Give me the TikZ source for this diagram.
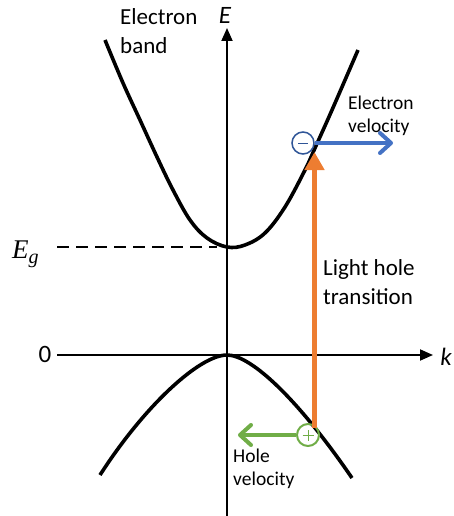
\documentclass[tikz,border=0pt]{standalone}
\usepackage{fontspec}
\setmainfont{Carlito}
\newfontfamily\egfont{Liberation Serif}
\usetikzlibrary{arrows.meta}
\definecolor{eblue}{HTML}{4472C4}
\definecolor{dblue}{HTML}{2F5597}
\definecolor{orng}{HTML}{ED7D31}
\definecolor{grn}{HTML}{70AD47}
\begin{document}
\begin{tikzpicture}[x=1pt,y=-1pt,
  band/.style={line width=3.6pt, line join=round},
  axis/.style={line width=1.9pt, -{Triangle[length=13pt,width=11pt]}},
  big/.style={font=\fontsize{23}{29}\selectfont, align=left, inner sep=0pt, anchor=base west},
  small/.style={font=\fontsize{19.5}{23}\selectfont, align=left, inner sep=0pt, anchor=base west},
  vel/.style={line width=4pt, -{Straight Barb[length=11pt,width=20pt,line cap=round,line join=round]}},
  carrier/.style={circle, minimum size=22pt, inner sep=0pt}]
\useasboundingbox (0,0) rectangle (454,516);
% axes
\coordinate (vb) at (227,516);
\coordinate (vt) at (227,28);
\coordinate (hl) at (57,355);
\coordinate (hr) at (433,355);
\draw[axis] (vb) -- (vt);
\draw[axis] (hl) -- (hr);
\node[inner sep=0pt, anchor=base, font=\fontsize{25}{28}\selectfont\itshape] (E) at (225,24) {E};
\node[inner sep=0pt, anchor=base, font=\fontsize{25}{28}\selectfont\itshape] (k) at (446,365) {k};
\node[inner sep=0pt, anchor=base, font=\fontsize{25}{28}\selectfont] (zero) at (45,362) {0};
\node[inner sep=0pt, anchor=base west, font=\fontsize{27}{30}\selectfont\egfont\itshape] (Eg) at (12,258) {E\raisebox{-5pt}{\fontsize{20}{22}\selectfont g}};
% dashed gap line
\coordinate (dl) at (57,247);
\coordinate (dr) at (217,247);
\draw[line width=2.6pt, dash pattern=on 12pt off 7pt] (dl) -- (dr);
% conduction band
\draw[band] plot[smooth, tension=0.6] coordinates {(105,40) (123,83) (140,120) (157,157) (173,190) (190,220) (207,238) (227,247) (245,245) (265,233) (285,207) (305,170) (315,148) (332,110) (358,50)};
% valence band
\coordinate (vtop) at (227,355);
\coordinate (vl) at (100,475);
\coordinate (vr) at (352,478);
\draw[band] (vl) .. controls (145,405) and (200,355) .. (vtop)
            .. controls (252,355) and (300,402) .. (vr);
% carriers
\node[carrier, draw=dblue, line width=1.5pt] (el) at (303,143) {};
\draw[dblue, line width=0.8pt] ([xshift=-5pt]el.center) -- ([xshift=5pt]el.center);
\node[carrier, draw=grn, line width=2pt] (ho) at (308,435) {};
\draw[grn, line width=0.8pt] ([xshift=-5.5pt]ho.center) -- ([xshift=5.5pt]ho.center);
\draw[grn, line width=0.8pt] ([yshift=-5.5pt]ho.center) -- ([yshift=5.5pt]ho.center);
% transition arrow
\coordinate (ob) at (314.5,428);
\coordinate (ot) at (314.5,152);
\draw[orng, line width=5pt, -{Triangle[length=18pt,width=19pt]}] (ob) -- (ot);
% velocity arrows
\coordinate (evt) at (393,143);
\coordinate (hvt) at (238,435);
\draw[vel, eblue] (el.east) -- (evt);
\draw[vel, grn] (ho.west) -- (hvt);
% labels (base anchor = baseline of last line)
\node[big] (eband) at (120,54) {Electron\\band};
\node[small] (evel) at (348,132) {Electron\\velocity};
\node[big] (lht) at (323,304) {Light hole\\transition};
\node[small] (hvel) at (233,485) {Hole\\velocity};
\end{tikzpicture}
\end{document}
